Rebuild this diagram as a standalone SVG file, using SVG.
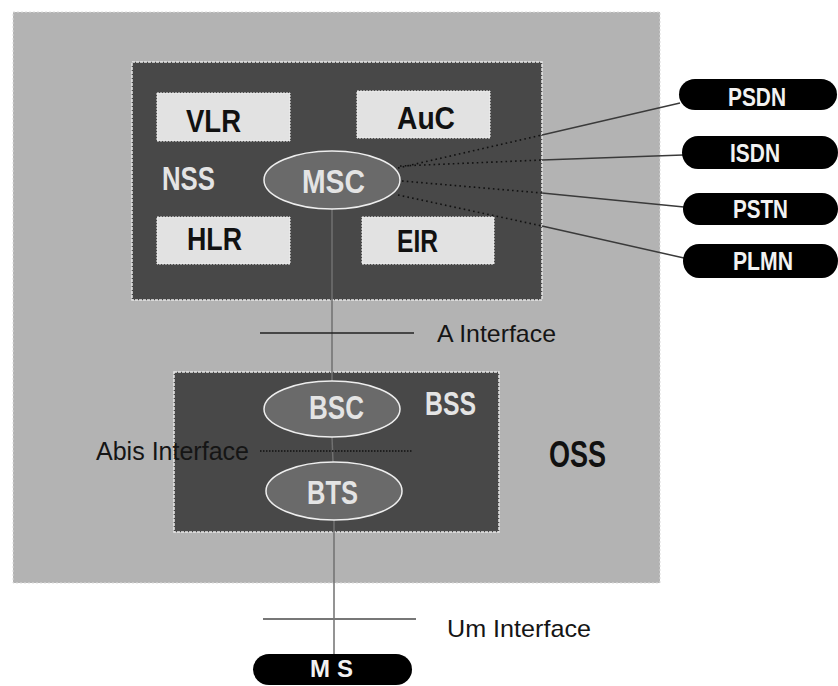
<svg xmlns="http://www.w3.org/2000/svg" width="838" height="686" viewBox="0 0 838 686">
<style>
.bg{fill:#b3b3b3;stroke:#dcdcdc;stroke-width:1;stroke-dasharray:2 2}
.sub{fill:#484848;stroke:#e8e8e8;stroke-width:1.5;stroke-dasharray:3 1}
.box{fill:#e2e2e2;stroke:#f2f2f2;stroke-width:1;stroke-dasharray:2 1}
.ell{fill:#6a6a6a;stroke:#eeeeee;stroke-width:1.5}
.pill{fill:#000}
.t{font-family:"Liberation Sans",Arial,sans-serif}
.bk{font-weight:bold;fill:#111;font-size:32px}
.wt{font-weight:bold;fill:#e4e4e4;font-size:33px}
.pt{font-weight:bold;fill:#f2f2f2;font-size:26px}
.lb{fill:#151515;font-size:24px}
.dot{stroke:#111;stroke-width:1.6;stroke-dasharray:1.6 3.2;fill:none}
.sol{stroke:#3a3a3a;stroke-width:1.5;fill:none}
.vert{stroke:#707070;stroke-width:1.5;fill:none}
</style>
<rect x="0" y="0" width="838" height="686" fill="#ffffff"/>
<g id="OSS">
<rect class="bg" x="13" y="12" width="647" height="571"/>
<text class="t bk" x="549" y="467" font-size="36" textLength="57" lengthAdjust="spacingAndGlyphs" style="font-size:36px">OSS</text>
</g>
<g id="NSS">
<rect class="sub" x="132" y="62" width="410" height="238"/>
<text class="t wt" x="162" y="190" textLength="53" lengthAdjust="spacingAndGlyphs">NSS</text>
</g>
<g id="BSS">
<rect class="sub" x="174" y="372" width="325" height="160"/>
<text class="t wt" x="425" y="415" textLength="51" lengthAdjust="spacingAndGlyphs">BSS</text>
</g>
<g id="connectors">
<line class="dot" x1="398" y1="168" x2="542" y2="135"/>
<line class="sol" x1="542" y1="135" x2="680" y2="103"/>
<line class="dot" x1="400" y1="166" x2="542" y2="160"/>
<line class="sol" x1="542" y1="160" x2="683" y2="155"/>
<line class="dot" x1="402" y1="181" x2="542" y2="193"/>
<line class="sol" x1="542" y1="193" x2="684" y2="207"/>
<line class="dot" x1="398" y1="195" x2="542" y2="226"/>
<line class="sol" x1="542" y1="226" x2="684" y2="258"/>
<line class="vert" x1="332" y1="209" x2="332" y2="381"/>
<line class="vert" x1="332" y1="437" x2="333" y2="462"/>
<line class="vert" x1="334" y1="520" x2="334" y2="654"/>
<line stroke="#222" stroke-width="1.5" x1="260" y1="333" x2="414" y2="333"/>
<line stroke="#111" stroke-width="1.5" stroke-dasharray="1.5 1.5" x1="260" y1="451" x2="412" y2="451"/>
<line stroke="#777" stroke-width="2" x1="263" y1="619" x2="416" y2="619"/>
</g>
<g id="VLR">
<rect class="box" x="157" y="93" width="133" height="48"/>
<text class="t bk" x="186" y="132" textLength="55" lengthAdjust="spacingAndGlyphs">VLR</text>
</g>
<g id="AuC">
<rect class="box" x="357" y="91" width="133" height="47"/>
<text class="t bk" x="397" y="129" textLength="58" lengthAdjust="spacingAndGlyphs">AuC</text>
</g>
<g id="HLR">
<rect class="box" x="157" y="217" width="133" height="47"/>
<text class="t bk" x="187" y="250" textLength="55" lengthAdjust="spacingAndGlyphs">HLR</text>
</g>
<g id="EIR">
<rect class="box" x="362" y="217" width="132" height="47"/>
<text class="t bk" x="397" y="252" textLength="41" lengthAdjust="spacingAndGlyphs">EIR</text>
</g>
<g id="MSC">
<ellipse class="ell" cx="332" cy="180" rx="68" ry="29"/>
<text class="t wt" x="302" y="193" textLength="63" lengthAdjust="spacingAndGlyphs">MSC</text>
</g>
<g id="BSC">
<ellipse class="ell" cx="332" cy="409" rx="68" ry="28"/>
<text class="t wt" x="309" y="419" textLength="55" lengthAdjust="spacingAndGlyphs">BSC</text>
</g>
<g id="BTS">
<ellipse class="ell" cx="334" cy="491" rx="68" ry="29"/>
<text class="t wt" x="307" y="504" textLength="51" lengthAdjust="spacingAndGlyphs">BTS</text>
</g>
<g id="PSDN">
<rect class="pill" x="679" y="79" width="158" height="31" rx="16" ry="15.5"/>
<text class="t pt" x="728" y="106" textLength="58" lengthAdjust="spacingAndGlyphs">PSDN</text>
</g>
<g id="ISDN">
<rect class="pill" x="682" y="136" width="156" height="33" rx="16" ry="16.5"/>
<text class="t pt" x="730" y="162" textLength="50" lengthAdjust="spacingAndGlyphs">ISDN</text>
</g>
<g id="PSTN">
<rect class="pill" x="683" y="193" width="155" height="32" rx="16" ry="16"/>
<text class="t pt" x="733" y="218" textLength="55" lengthAdjust="spacingAndGlyphs">PSTN</text>
</g>
<g id="PLMN">
<rect class="pill" x="683" y="244" width="155" height="34" rx="16" ry="17"/>
<text class="t pt" x="733" y="270" textLength="60" lengthAdjust="spacingAndGlyphs">PLMN</text>
</g>
<g id="MS">
<rect class="pill" x="253" y="654" width="159" height="31" rx="16" ry="15.5"/>
<text class="t pt" x="310" y="677" style="font-size:24px" textLength="43" lengthAdjust="spacing">MS</text>
</g>
<g id="labels">
<text class="t lb" x="437" y="342" textLength="119" lengthAdjust="spacingAndGlyphs">A Interface</text>
<text class="t lb" x="96" y="460" style="font-size:25px" textLength="153" lengthAdjust="spacingAndGlyphs">Abis Interface</text>
<text class="t lb" x="447" y="637" textLength="144" lengthAdjust="spacingAndGlyphs">Um Interface</text>
</g>
</svg>
